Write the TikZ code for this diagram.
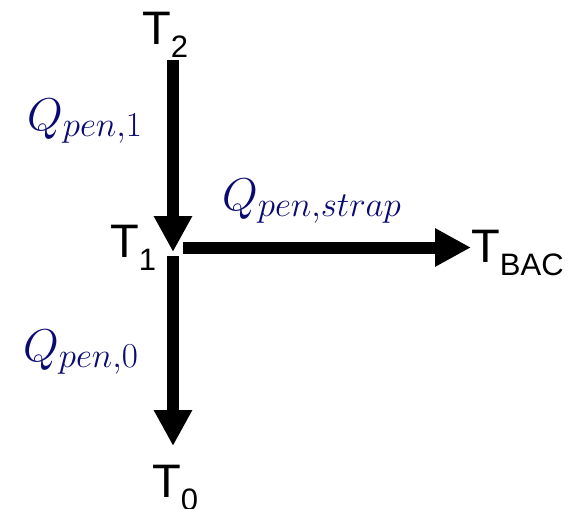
\RequirePackage{fix-cm}
\documentclass[tikz,border=0pt]{standalone}
\usepackage{fontspec}
\setmainfont{Liberation Sans}
\usetikzlibrary{arrows.meta}
\DeclareMathSizes{46}{46}{35}{25}
\definecolor{qnavy}{RGB}{10,10,115}
\tikzset{
  arr/.style={line width=12pt,-{Triangle[width=36pt,length=36pt]}},
  tlab/.style={inner sep=0pt,anchor=base west,font=\fontsize{47}{47}\selectfont},
  qlab/.style={inner sep=0pt,anchor=base west,text=qnavy,font=\fontsize{46}{46}\selectfont}
}
\newcommand{\tsub}[1]{\raisebox{-13pt}{\fontsize{31}{31}\selectfont #1}}
\begin{document}
\begin{tikzpicture}[x=1pt,y=-1pt]
\useasboundingbox (0,0) rectangle (576,509);
% temperature nodes
\node[tlab] (T2) at (142,44) {T\tsub{2}};
\node[tlab] (T1) at (110,257) {T\tsub{1}};
\node[tlab] (TBAC) at (471,262) {T\tsub{BAC}};
\node[tlab] (T0) at (152,497) {T\tsub{0}};
% arrow end points
\coordinate (a1s) at (173,60);
\coordinate (a1e) at (173,252);
\coordinate (a2s) at (183,247.5);
\coordinate (a2e) at (471,247.5);
\coordinate (a3s) at (173,256);
\coordinate (a3e) at (173,446);
\draw[arr] (a1s) -- (a1e);
\draw[arr] (a2s) -- (a2e);
\draw[arr] (a3s) -- (a3e);
% heat flow labels
\node[qlab] (q1) at (27,130) {$Q_{pen,1}$};
\node[qlab] (qs) at (222,210) {$Q_{pen,strap}$};
\node[qlab] (q0) at (23,361) {$Q_{pen,0}$};
\end{tikzpicture}
\end{document}
